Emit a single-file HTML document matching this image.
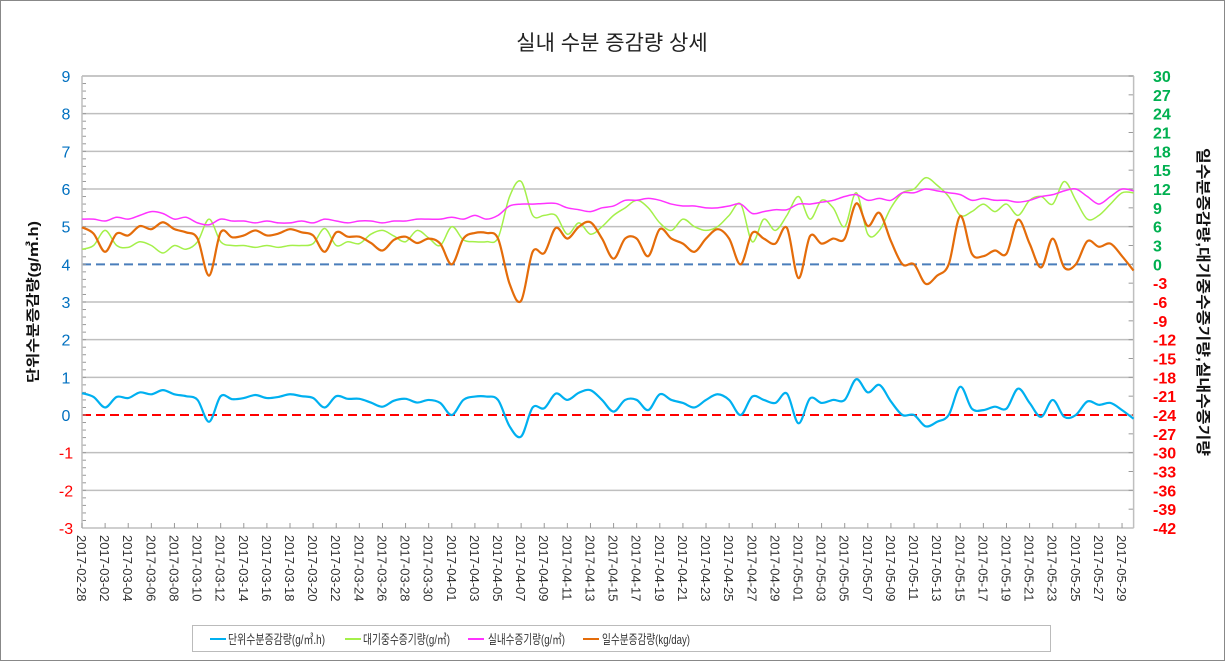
<!DOCTYPE html>
<html><head><meta charset="utf-8"><style>
html,body{margin:0;padding:0;background:#fff}
svg{display:block}
text{font-family:"Liberation Sans","Noto Sans CJK KR",sans-serif}
</style></head><body>
<svg id="chart" width="1225" height="661" xmlns="http://www.w3.org/2000/svg">
<rect x="0.5" y="0.5" width="1224" height="660" fill="#fff" stroke="#888"/>
<text x="612" y="50" text-anchor="middle" font-size="21" fill="#222">실내 수분 증감량 상세</text>
<g id="grid"></g>
<g id="axes"></g>
<g id="series"></g>
<text transform="translate(38,302) rotate(-90)" text-anchor="middle" font-size="14" font-weight="bold" fill="#111" textLength="162" lengthAdjust="spacingAndGlyphs">단위수분증감량(g/㎥.h)</text>
<text transform="translate(1198,302) rotate(90)" text-anchor="middle" font-size="15" font-weight="bold" fill="#111" textLength="308" lengthAdjust="spacingAndGlyphs">일수분증감량,대기중수증기량,실내수증기량</text>
<g>
<rect x="192.5" y="625.5" width="858" height="26" fill="#fff" stroke="#bbb"/>
<g><line x1="210" y1="639" x2="226" y2="639" stroke="#00B0F0" stroke-width="2"/><text x="228" y="644" font-size="13" fill="#333" textLength="97" lengthAdjust="spacingAndGlyphs">단위수분증감량(g/㎥.h)</text></g>
<g><line x1="345" y1="639" x2="361" y2="639" stroke="#A4F04A" stroke-width="2"/><text x="363" y="644" font-size="13" fill="#333" textLength="87" lengthAdjust="spacingAndGlyphs">대기중수증기량(g/㎥)</text></g>
<g><line x1="468" y1="639" x2="484" y2="639" stroke="#FF33FF" stroke-width="2"/><text x="488" y="644" font-size="13" fill="#333" textLength="77" lengthAdjust="spacingAndGlyphs">실내수증기량(g/㎥)</text></g>
<g><line x1="583" y1="639" x2="599" y2="639" stroke="#E46C0A" stroke-width="2"/><text x="602" y="644" font-size="13" fill="#333" textLength="88" lengthAdjust="spacingAndGlyphs">일수분증감량(kg/day)</text></g>
</g>
</svg>
<script>
// day index 0 = 2017-02-28
const leftTicks=[-3,-2,-1,0,1,2,3,4,5,6,7,8,9];
const rightTicks=[-42,-39,-36,-33,-30,-27,-24,-21,-18,-15,-12,-9,-6,-3,0,3,6,9,12,15,18,21,24,27,30];
const dateLabels=["2017-02-28","2017-03-02","2017-03-04","2017-03-06","2017-03-08","2017-03-10","2017-03-12","2017-03-14","2017-03-16","2017-03-18","2017-03-20","2017-03-22","2017-03-24","2017-03-26","2017-03-28","2017-03-30","2017-04-01","2017-04-03","2017-04-05","2017-04-07","2017-04-09","2017-04-11","2017-04-13","2017-04-15","2017-04-17","2017-04-19","2017-04-21","2017-04-23","2017-04-25","2017-04-27","2017-04-29","2017-05-01","2017-05-03","2017-05-05","2017-05-07","2017-05-09","2017-05-11","2017-05-13","2017-05-15","2017-05-17","2017-05-19","2017-05-21","2017-05-23","2017-05-25","2017-05-27","2017-05-29"];
// left axis (g/m3.h)
const unitValues=[0.58,0.48,0.2,0.48,0.45,0.6,0.55,0.66,0.55,0.5,0.4,-0.18,0.5,0.42,0.45,0.53,0.45,0.48,0.55,0.5,0.45,0.2,0.5,0.43,0.43,0.33,0.22,0.38,0.43,0.33,0.4,0.32,0,0.4,0.49,0.49,0.4,-0.3,-0.57,0.2,0.18,0.57,0.4,0.59,0.66,0.4,0.09,0.4,0.4,0.13,0.55,0.4,0.32,0.2,0.4,0.55,0.4,0,0.49,0.4,0.32,0.57,-0.22,0.44,0.32,0.4,0.4,0.95,0.6,0.8,0.36,0,0,-0.3,-0.18,0,0.75,0.17,0.13,0.22,0.17,0.7,0.32,-0.05,0.4,-0.05,0,0.36,0.27,0.32,0.13,-0.1];
// right axis
const outdoorValues=[2.4,3,5.4,3,2.7,3.6,3,1.8,3,2.4,3.6,7.2,3.6,3,3,2.7,3,2.7,3,3,3.3,5.7,3,3.6,3.3,4.8,5.4,4.5,3.6,5.4,4.2,3,6,3.9,3.6,3.6,4.2,10.8,13.2,7.8,7.8,7.8,4.8,6.6,4.8,6,7.8,9,10.2,9,6.6,5.4,7.2,6,5.4,6,7.8,9.6,3.6,7.2,5.4,7.8,10.8,7.2,10.2,9,6,11.4,4.8,5.4,9,11.4,12,13.8,12.6,10.8,7.8,8.4,9.6,8.4,9.6,7.8,10.2,10.8,9.6,13.2,10.2,7.2,7.8,9.6,11.4,11.4];
const indoorValues=[7.2,7.2,6.9,7.5,7.2,7.8,8.4,8.1,7.2,7.5,6.6,6.3,7.2,6.9,6.9,6.6,6.9,6.6,6.6,6.9,6.6,7.2,6.9,6.6,6.9,6.9,6.6,6.9,6.9,7.2,7.2,7.2,7.5,7.2,7.8,7.2,7.8,9.3,9.6,9.6,9.7,9.7,9,8.7,8.4,9,9.3,10.2,10.2,10.5,10.2,9.6,9.3,9.3,9,9,9.3,9.6,8.1,8.4,8.7,8.7,9.6,9.6,9.9,10.2,10.8,11.1,10.2,10.5,10.2,11.4,11.4,12,11.7,11.4,11.1,10.2,10.5,10.2,10.2,9.9,10.2,10.8,11.1,11.7,12,10.8,9.6,10.8,12,11.7];
const dailyValues=[5.9,4.9,2,4.9,4.6,6.1,5.6,6.7,5.6,5.1,4.1,-1.8,5.1,4.3,4.6,5.4,4.6,4.9,5.6,5.1,4.6,2,5.1,4.4,4.4,3.4,2.2,3.9,4.4,3.4,4.1,3.3,0,4.1,5,5,4.1,-3.1,-5.8,2,1.8,5.8,4.1,6,6.7,4.1,0.9,4.1,4.1,1.3,5.6,4.1,3.3,2,4.1,5.6,4.1,0,5,4.1,3.3,5.8,-2.2,4.5,3.3,4.1,4.1,9.7,6.1,8.2,3.7,0,0,-3.1,-1.8,0,7.7,1.7,1.3,2.2,1.7,7.1,3.3,-0.5,4.1,-0.5,0,3.7,2.8,3.3,1.3,-1.0];

const NS="http://www.w3.org/2000/svg";
const X0=82,X1=1133.6,Y0=76,Y1=528,DAYS=91;
const xs=d=>X0+(X1-X0)*d/DAYS;
const yl=v=>Y1-(v+3)/12*(Y1-Y0);
const yr=v=>Y1-(v+42)/72*(Y1-Y0);
function mk(tag,attrs,parent){const e=document.createElementNS(NS,tag);for(const k in attrs)e.setAttribute(k,attrs[k]);parent.appendChild(e);return e;}
const grid=document.getElementById('grid'),axes=document.getElementById('axes'),series=document.getElementById('series');
leftTicks.forEach(v=>{
  if(v!==-3&&v!==0&&v!==4){const g=mk('line',{x1:X0,x2:X1,y1:yl(v),y2:yl(v),stroke:'#bfbfbf','stroke-width':1.5},grid);
  
  }
  const t=mk('text',{x:66,y:yl(v)+6,'text-anchor':'middle','font-size':16,fill:v<0?'#FF0000':'#0070C0','font-family':'Liberation Serif, serif'},axes);
  t.textContent=v;
  
  
});
for(let v=-3;v<9;v+=0.2){mk('line',{x1:X0,x2:X0+4,y1:yl(v),y2:yl(v),stroke:'#999'},axes);}
rightTicks.forEach(v=>{
  mk('line',{x1:X1-5,x2:X1,y1:yr(v),y2:yr(v),stroke:'#999'},axes);
  const t=mk('text',{x:1153,y:yr(v)+6,'font-size':16,'font-weight':'bold',fill:v<0?'#FF0000':'#00B050'},axes);
  t.textContent=v;
  
  
});
mk('line',{x1:X0,x2:X0,y1:Y0,y2:Y1,stroke:'#bfbfbf','stroke-width':1.5},axes);
mk('line',{x1:X1,x2:X1,y1:Y0,y2:Y1,stroke:'#bfbfbf','stroke-width':1.5},axes);
mk('line',{x1:X0,x2:X1,y1:Y1,y2:Y1,stroke:'#bfbfbf','stroke-width':1.5},axes);
mk('line',{x1:X0,x2:X1,y1:Y0,y2:Y0,stroke:'#bfbfbf','stroke-width':1.5},grid);
const rl=mk('line',{x1:X0,x2:X1,y1:yl(0),y2:yl(0),stroke:'#FF0000','stroke-width':2,'stroke-dasharray':'9,5'},grid);


const bl=mk('line',{x1:X0,x2:X1,y1:yr(0),y2:yr(0),stroke:'#4A7EBB','stroke-width':2,'stroke-dasharray':'9,5'},grid);


dateLabels.forEach((s,i)=>{
  const x=xs(i*2);
  mk('line',{x1:x,x2:x,y1:Y1,y2:Y1-5,stroke:'#999'},axes);
  const t=mk('text',{transform:`translate(${x-5},535) rotate(90)`,'font-size':13,fill:'#333'},axes);
  t.textContent=s;
  
  
});
function path(vals,yf,color,w,name){
  const p=vals.map((v,i)=>[xs(i),yf(v)]);
  let d=`M${p[0][0]},${p[0][1]}`;
  for(let i=0;i<p.length-1;i++){
    const a=p[Math.max(0,i-1)],b=p[i],c=p[i+1],e=p[Math.min(p.length-1,i+2)];
    const c1=[b[0]+(c[0]-a[0])/6,b[1]+(c[1]-a[1])/6],c2=[c[0]-(e[0]-b[0])/6,c[1]-(e[1]-b[1])/6];
    d+=`C${c1[0]},${c1[1]} ${c2[0]},${c2[1]} ${c[0]},${c[1]}`;
  }
  const el=mk('path',{d:d,fill:'none',stroke:color,'stroke-width':w,'stroke-linejoin':'round'},series);
  
  
}
path(outdoorValues,yr,'#A4F04A',1.5,'series-outdoor-vapor');
path(indoorValues,yr,'#FF33FF',1.5,'series-indoor-vapor');
path(dailyValues,yr,'#E46C0A',2.2,'series-daily-change');
path(unitValues,yl,'#00B0F0',2.2,'series-unit-change');
</script>
</body></html>
